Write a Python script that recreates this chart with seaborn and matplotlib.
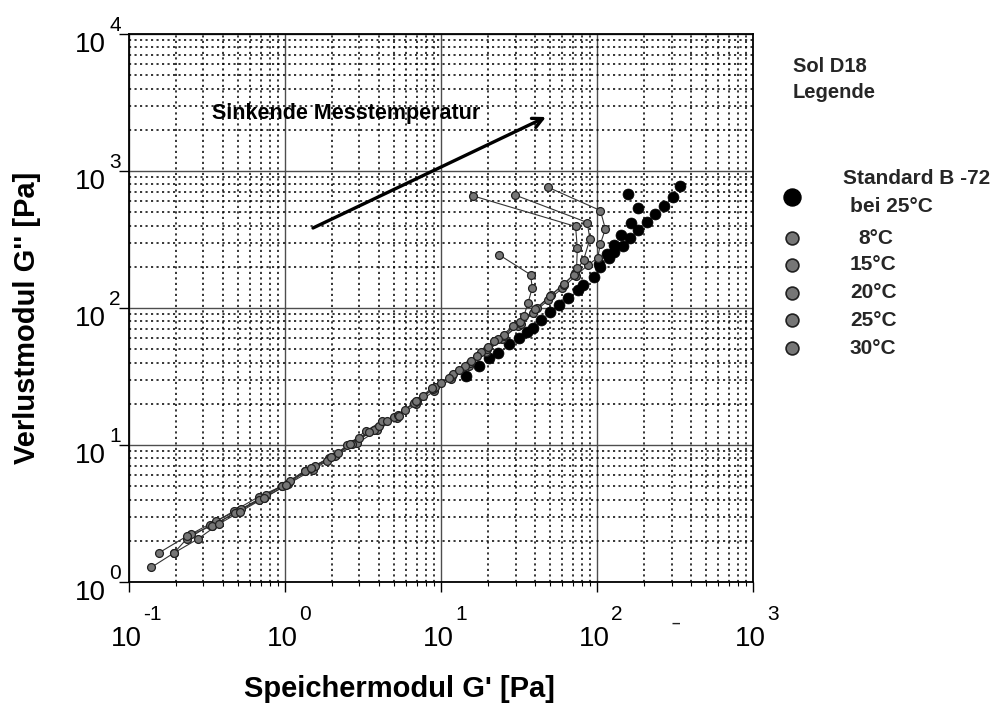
import numpy as np
import pandas as pd
import matplotlib
matplotlib.use("Agg")
import matplotlib.pyplot as plt
import seaborn as sns
from matplotlib.ticker import LogLocator, NullFormatter
from matplotlib.transforms import ScaledTranslation

# ---- measured data: storage modulus G' vs loss modulus G'' [Pa] ----
# Standard B-72 at 25 °C (main sweep and upper branch)
std_gp = [14.4, 17.4, 20.2, 23.0, 27.1, 31.4, 35.8, 38.6, 44, 50, 57, 65, 75, 81,
          95, 105, 119, 128, 146, 162, 182, 208, 234, 267, 305, 338]
std_gpp = [31.7, 38.0, 43.5, 47.3, 55, 60.9, 67.3, 72, 82, 93, 106, 119, 136, 148,
           169, 200, 233, 258, 285, 326, 372, 426, 487, 557, 648, 778]
std2_gp = [103, 116, 128, 142, 164, 182, 159]
std2_gpp = [210, 248, 288, 343, 419, 539, 681]

# Sol D18 at the different measuring temperatures
t8_gp = [0.341, 0.5, 0.73, 1.05, 1.5, 2.1, 2.9, 3.9, 5.2, 6.9, 9.0, 11.6, 15.0, 19.3,
         24.5, 31.0, 39.0, 48.5, 60.0, 73.0, 87.0, 101, 105, 113, 105, 48.4]
t8_gpp = [2.57, 3.3, 4.1, 5.2, 6.6, 8.3, 10.3, 12.8, 15.8, 19.8, 24.8, 30.5, 38.0, 47.5,
          59.0, 74.0, 92.0, 114, 140, 172, 205, 233, 294, 377, 515, 762]

t15_gp = [0.236, 0.33, 0.47, 0.68, 0.95, 1.35, 1.9, 2.7, 3.7, 5.0, 6.7, 8.9, 11.7, 15.3,
          19.8, 25.5, 32.5, 41.4, 50.4, 61.3, 72.0, 82.0, 89.9, 86.5, 29.6]
t15_gpp = [2.06, 2.6, 3.3, 4.2, 5.0, 6.5, 8.0, 10.2, 12.8, 16.0, 20.3, 25.5, 32.0, 40.0,
           50.0, 62.5, 77.0, 100, 124, 148, 180, 225, 319, 421, 670]

t20_gp = [0.194, 0.25, 0.36, 0.52, 0.75, 1.08, 1.55, 2.2, 3.0, 4.0, 5.3, 7.0, 9.2, 12.0,
          15.5, 20.0, 25.5, 32.0, 40.0, 50.0, 61.0, 71.0, 73.9, 74.7, 72.8, 16.0]
t20_gpp = [1.63, 2.24, 2.8, 3.4, 4.3, 5.5, 7.0, 8.7, 11.2, 13.8, 16.5, 21.0, 26.5, 33.0,
           41.0, 52.0, 64.0, 79.0, 98.0, 122, 150, 175, 196, 274, 394, 659]

t25_gp = [0.155, 0.236, 0.341, 0.48, 0.68, 0.95, 1.34, 1.86, 2.5, 3.28, 4.2, 5.37, 6.86,
          8.8, 11.2, 14.2, 18.0, 23.0, 29.0, 34.0, 36.0, 38.4, 37.5, 23.5]
t25_gpp = [1.63, 2.17, 2.57, 3.2, 4.0, 5.0, 6.5, 7.65, 9.95, 12.6, 15.0, 16.3, 20.9,
           26.2, 31.0, 38.0, 47.5, 59.0, 74.0, 88.0, 108, 140, 175, 245]

t30_gp = [0.139, 0.194, 0.276, 0.376, 0.513, 0.731, 1.02, 1.46, 1.98, 2.62, 3.45, 4.52,
          5.9, 7.7, 10.0, 13.0, 16.9, 21.8]
t30_gpp = [1.28, 1.63, 2.06, 2.65, 3.25, 4.1, 5.1, 6.8, 8.2, 10.1, 12.4, 14.9,
           18.1, 22.8, 28.2, 35.5, 45.0, 57.0]

temp_labels = ["8°C", "15°C", "20°C", "25°C", "30°C"]
x_decades = [0.1, 1, 10, 100, 1000]
x_exponents = ["-1", "0", "1", "2", "3"]
y_decades = [1, 10, 100, 1000, 10000]
y_exponents = ["0", "1", "2", "3", "4"]

temps = pd.concat([
    pd.DataFrame({"Gp": gp, "Gpp": gpp, "T": lab})
    for lab, gp, gpp in zip(temp_labels,
                            [t8_gp, t15_gp, t20_gp, t25_gp, t30_gp],
                            [t8_gpp, t15_gpp, t20_gpp, t25_gpp, t30_gpp])
], ignore_index=True)
std = pd.concat([
    pd.DataFrame({"Gp": std_gp, "Gpp": std_gpp, "run": "a"}),
    pd.DataFrame({"Gp": std2_gp, "Gpp": std2_gpp, "run": "b"}),
], ignore_index=True)

# ---- style ----
sns.set_theme(style="white")
plt.rcParams["font.family"] = ["Liberation Sans", "DejaVu Sans"]

fig = plt.figure(figsize=(9.98, 7.06), dpi=100)
fig.patch.set_facecolor("white")
ax = fig.add_axes([0.1293, 0.1756, 0.6253, 0.7762])
ax.set_xscale("log")
ax.set_yscale("log")
ax.set_xlim(0.1, 1000)
ax.set_ylim(1, 1e4)

gray_line = "#333333"
gray_fill = "#767676"
gray_edge = "#202020"

# Standard B-72 as large black dots
sns.scatterplot(data=std, x="Gp", y="Gpp", ax=ax, color="black", s=62,
                edgecolor="black", linewidth=0.5, legend=False, zorder=3)

# temperature series: thin connecting lines plus grey dots
sns.lineplot(data=temps, x="Gp", y="Gpp", hue="T", sort=False, estimator=None,
             palette={t: gray_line for t in temp_labels}, lw=0.8,
             legend=False, ax=ax, zorder=4)
sns.scatterplot(data=temps, x="Gp", y="Gpp", ax=ax, color=gray_fill, s=32,
                edgecolor=gray_edge, linewidth=0.9, legend=False, zorder=5)

# ---- grid and axes ----
ax.xaxis.set_minor_locator(LogLocator(base=10, subs=np.arange(2, 10), numticks=30))
ax.yaxis.set_minor_locator(LogLocator(base=10, subs=np.arange(2, 10), numticks=30))
ax.xaxis.set_minor_formatter(NullFormatter())
ax.yaxis.set_minor_formatter(NullFormatter())
ax.grid(which="major", color="#4d4d4d", lw=1.0, ls="-")
ax.grid(which="minor", color="black", lw=1.1, ls=(0, (1.4, 2.2)))
ax.set_axisbelow(True)

# decade labels: "10" as the tick label, the exponent set as a raised superscript
ax.set_xticks(x_decades)
ax.set_xticklabels(["10"] * len(x_decades))
ax.set_yticks(y_decades)
ax.set_yticklabels(["10"] * len(y_decades))

ax.tick_params(which="major", bottom=True, left=True, direction="out",
               length=7, width=1.0, color="black", labelsize=20, labelcolor="black")
ax.tick_params(axis="x", which="major", pad=25)
ax.tick_params(axis="y", which="major", pad=10)
ax.tick_params(axis="x", which="minor", bottom=True, direction="out", length=3,
               width=0.8, color="black")
ax.tick_params(axis="y", which="minor", left=False)

shift_x = ScaledTranslation(-0.03, 0, fig.dpi_scale_trans)
for lab in ax.get_xticklabels():
    lab.set_transform(lab.get_transform() + shift_x)
shift_y = ScaledTranslation(0, -0.08, fig.dpi_scale_trans)
for lab in ax.get_yticklabels():
    lab.set_transform(lab.get_transform() + shift_y)

for xv, ex in zip(x_decades, x_exponents):
    ax.annotate(ex, xy=(xv, 0), xycoords=("data", "axes fraction"),
                xytext=(14, -32), textcoords="offset pixels",
                ha="left", va="center", fontsize=15, color="black")
for yv, ex in zip(y_decades, y_exponents):
    ax.annotate(ex, xy=(0, yv), xycoords=("axes fraction", "data"),
                xytext=(-20, 9), textcoords="offset pixels",
                ha="left", va="center", fontsize=15, color="black")

for sp in ax.spines.values():
    sp.set_visible(True)
    sp.set_color("black")
    sp.set_linewidth(1.3)

ax.set_xlabel("Speichermodul G' [Pa]", fontsize=21, fontweight="bold", color="black")
ax.set_ylabel("Verlustmodul G'' [Pa]", fontsize=21, fontweight="bold", color="black")
ax.xaxis.set_label_coords(0.434, -0.195)
ax.xaxis.label.set_va("center")
ax.yaxis.set_label_coords(-0.163, 0.482)
ax.yaxis.label.set_va("center")

# ---- overlay in pixel coordinates: annotation arrow and legend ----
lax = fig.add_axes([0, 0, 1, 1], zorder=5)
lax.set_xlim(0, 998)
lax.set_ylim(706, 0)
lax.axis("off")
lax.patch.set_alpha(0)

lax.annotate("", xy=(546, 117), xytext=(313, 228),
             arrowprops=dict(arrowstyle="->,head_length=0.6,head_width=0.3",
                             lw=2.4, color="black", shrinkA=0, shrinkB=0))
lax.text(212, 113, "Sinkende Messtemperatur", fontsize=15.5, fontweight="bold",
         ha="left", va="center", color="black")

lax.text(676, 624, "–", fontsize=11, fontweight="bold", ha="center", va="center",
         color="#222222")

lax.text(793, 67, "Sol D18", fontsize=14.5, fontweight="bold", ha="left", va="center")
lax.text(793, 92, "Legende", fontsize=14.5, fontweight="bold", ha="left", va="center")

lax.scatter([792], [197], s=150, color="black", zorder=3)
lax.text(843, 178, "Standard B -72", fontsize=15, fontweight="bold", ha="left", va="center")
lax.text(850, 207, "bei 25°C", fontsize=15, fontweight="bold", ha="left", va="center")

leg_y = [238, 265, 293, 320, 348]
leg_x = [858, 850, 850, 850, 850]
for lab, yy, xx in zip(temp_labels, leg_y, leg_x):
    lax.scatter([792], [yy], s=85, color=gray_fill, edgecolor=gray_edge, linewidth=1.2, zorder=3)
    lax.text(xx, yy, lab, fontsize=15, fontweight="bold", ha="left", va="center")

fig.savefig("out.png", dpi=100, facecolor="white")
